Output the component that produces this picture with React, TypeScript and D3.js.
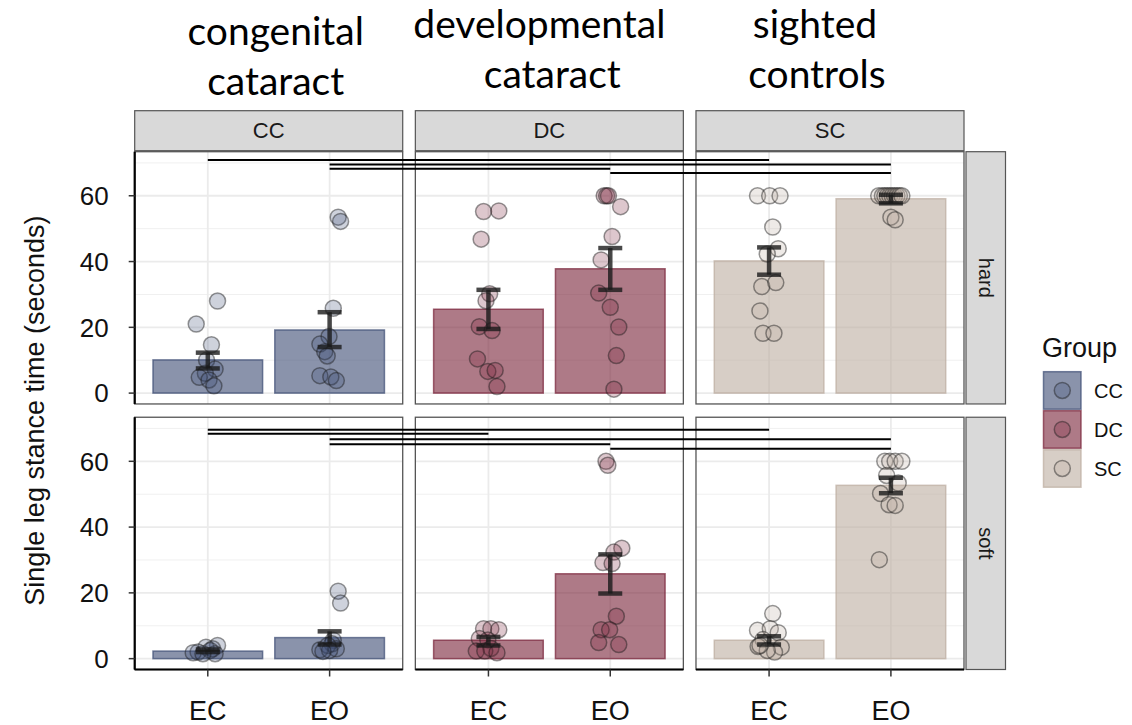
import * as d3 from "d3";

const groups = ["CC", "DC", "SC"];
const conditions = ["EC", "EO"];
const surfaces = ["hard", "soft"];
const groupTitles = [
  ["congenital", "cataract"],
  ["developmental", "cataract"],
  ["sighted", "controls"],
];
const yTicks = [0, 20, 40, 60];
const yMinor = [10, 30, 50, 70];

// bar heights and error bar ends, order: CC-EC, CC-EO, DC-EC, DC-EO, SC-EC, SC-EO
const meanHard = [10.1, 19.2, 25.5, 37.8, 40.2, 59.1];
const lowHard = [7.5, 14.0, 19.5, 31.4, 36.0, 57.7];
const highHard = [12.3, 24.6, 31.4, 44.1, 44.3, 60.3];
const meanSoft = [2.3, 6.4, 5.6, 25.8, 5.6, 52.7];
const lowSoft = [2.0, 4.3, 4.0, 19.8, 4.3, 50.3];
const highSoft = [2.8, 8.3, 6.6, 31.7, 6.8, 55.0];

// participants: [seconds, jitter in band steps]
const hardCC_EC = [[28.0, 0.08], [21.0, -0.095], [14.7, 0.03], [10.0, -0.01], [7.3, 0.06], [6.0, -0.02], [4.8, -0.07], [4.0, 0.01], [2.2, 0.05]];
const hardCC_EO = [[53.5, 0.07], [52.2, 0.09], [25.8, 0.03], [17.2, -0.005], [14.9, -0.08], [12.6, -0.04], [11.3, -0.02], [5.3, -0.08], [4.9, 0.01], [3.8, 0.055]];
const hardDC_EC = [[55.2, -0.04], [55.4, 0.085], [46.8, -0.06], [30.2, 0.01], [28.1, -0.02], [20.2, -0.075], [19.0, 0.03], [10.4, -0.09], [6.6, -0.005], [6.9, 0.055], [2.0, 0.07]];
const hardDC_EO = [[60, -0.05], [60, -0.03], [60, -0.015], [56.7, 0.085], [47.6, 0.015], [40.5, -0.075], [30.4, -0.095], [26.1, 0], [20.1, 0.07], [11.4, 0.05], [1.2, 0.03]];
const hardSC_EC = [[60, -0.095], [60, 0.005], [60, 0.09], [50.5, 0.03], [43.9, 0.075], [42.3, -0.015], [32.4, -0.06], [33.6, 0.055], [25.0, -0.075], [18.2, -0.05], [18.2, 0.04]];
const hardSC_EO = [[60, -0.1], [60, -0.07], [60, -0.05], [60, -0.03], [60, -0.01], [60, 0.01], [60, 0.03], [60, 0.05], [60, 0.07], [60, 0.09], [53.5, 0], [52.7, 0.035]];
const softCC_EC = [[4.0, 0.08], [3.5, -0.015], [3.0, 0.04], [2.5, 0.02], [2.0, -0.08], [1.8, -0.12], [1.5, 0.06], [1.5, -0.04]];
const softCC_EO = [[20.5, 0.07], [16.9, 0.09], [5.6, 0.03], [4.5, 0.02], [4.0, -0.015], [3.0, 0.055], [2.7, -0.08], [2.5, 0], [2.2, -0.055]];
const softDC_EC = [[9.1, -0.04], [9.1, 0.02], [8.8, 0.085], [6.1, -0.075], [5.7, -0.005], [3.1, 0.02], [2.3, -0.1], [2.3, -0.03], [1.8, 0.07]];
const softDC_EO = [[60, -0.035], [58.8, -0.02], [33.6, 0.095], [32.4, 0.03], [29.2, -0.06], [28.9, 0.015], [12.9, 0.05], [8.8, -0.075], [8.8, -0.005], [4.9, -0.095], [4.3, 0.07]];
const softSC_EC = [[13.7, 0.03], [8.6, -0.095], [9.1, 0.01], [7.9, 0.075], [5.8, -0.05], [3.7, -0.09], [3.5, 0.1], [2.0, 0.045], [2.5, -0.015], [4.0, -0.075]];
const softSC_EO = [[60, -0.05], [60, -0.01], [60, 0.035], [60, 0.09], [55.7, -0.035], [53.4, 0.06], [50.2, -0.085], [46.8, -0.015], [46.6, 0.035], [30.1, -0.095]];

const pointsHard = [hardCC_EC, hardCC_EO, hardDC_EC, hardDC_EO, hardSC_EC, hardSC_EO];
const pointsSoft = [softCC_EC, softCC_EO, softDC_EC, softDC_EO, softSC_EC, softSC_EO];

// comparison brackets: from group/cond to group/cond at height (seconds)
const linksHard: [string, string, string, string, number][] = [
  ["CC", "EC", "SC", "EC", 70.9],
  ["CC", "EO", "SC", "EO", 69.5],
  ["CC", "EO", "DC", "EO", 68.2],
  ["DC", "EO", "SC", "EO", 66.9],
];
const linksSoft: [string, string, string, string, number][] = [
  ["CC", "EC", "SC", "EC", 69.6],
  ["CC", "EC", "DC", "EC", 68.4],
  ["CC", "EO", "SC", "EO", 66.7],
  ["CC", "EO", "DC", "EO", 65.2],
  ["DC", "EO", "SC", "EO", 63.8],
];

const colors = ["#3c4b73", "#782137", "#bcada0"];

const font = "'Liberation Sans', Arial, sans-serif";

// title text boxes sit a little off the panel centres (px shift per line)
const titleShift = [
  [7, 7],
  [-10, 3],
  [-15, -13],
];

export default function App() {
  const width = 1132;
  const height = 725;

  const fx = d3.scaleBand().domain(groups).range([134.7, 964]).paddingInner(0.045);
  const fy = d3.scaleBand().domain(surfaces).range([151.7, 669.5]).paddingInner(0.05);
  const pw = fx.bandwidth();
  const ph = fy.bandwidth();
  const x = d3.scaleBand().domain(conditions).range([0, pw]).paddingInner(0.1).paddingOuter(0.15);
  const y = d3.scaleLinear().domain([-3.3, 73.4]).range([ph, 0]);
  const step = x.step();
  const cx = (c: string) => (x(c) || 0) + x.bandwidth() / 2;

  const stripRight = 1005.5;
  const stripLeft = 966;

  return (
    <svg
      width={width}
      height={height}
      style={{ position: "absolute", left: 0, top: 0, background: "#fff" }}
    >
      {/* group titles */}
      {groups.map((g, gi) => {
        const mid = (fx(g) || 0) + pw / 2;
        return (
          <text
            key={"t" + g}
            y={gi === 0 ? 45 : 38}
            textAnchor="middle"
            fontFamily="Lato, 'Open Sans', sans-serif"
            fontSize={39}
            fill="#000"
          >
            <tspan x={mid + titleShift[gi][0]}>{groupTitles[gi][0]}</tspan>
            <tspan x={mid + titleShift[gi][1]} dy={50}>{groupTitles[gi][1]}</tspan>
          </text>
        );
      })}

      {/* top strips */}
      {groups.map((g) => (
        <g key={"s" + g}>
          <rect x={fx(g)} y={110.7} width={pw} height={40} fill="#d9d9d9" stroke="#555" strokeWidth={1.2} />
          <text x={(fx(g) || 0) + pw / 2} y={130.7} dy="0.35em" textAnchor="middle" fontFamily={font} fontSize={22} fill="#1a1a1a">
            {g}
          </text>
        </g>
      ))}

      {/* right strips */}
      {surfaces.map((s) => (
        <g key={"r" + s}>
          <rect x={stripLeft} y={fy(s)} width={stripRight - stripLeft} height={ph} fill="#d9d9d9" stroke="#555" strokeWidth={1.2} />
          <text
            transform={`translate(${(stripLeft + stripRight) / 2},${(fy(s) || 0) + ph / 2}) rotate(90)`}
            dy="0.35em"
            textAnchor="middle"
            fontFamily={font}
            fontSize={20}
            fill="#1a1a1a"
          >
            {s}
          </text>
        </g>
      ))}

      {surfaces.map((s, si) => {
        const means = si === 0 ? meanHard : meanSoft;
        const lows = si === 0 ? lowHard : lowSoft;
        const highs = si === 0 ? highHard : highSoft;
        const pts = si === 0 ? pointsHard : pointsSoft;
        return groups.map((g, gi) => (
          <g key={s + g} transform={`translate(${fx(g)},${fy(s)})`}>
            <rect width={pw} height={ph} fill="#fff" />
            {yMinor.map((t) => (
              <line key={"mi" + t} x1={0} x2={pw} y1={y(t)} y2={y(t)} stroke="#f0f0f0" strokeWidth={1} />
            ))}
            {yTicks.map((t) => (
              <line key={"ma" + t} x1={0} x2={pw} y1={y(t)} y2={y(t)} stroke="#ebebeb" strokeWidth={1.8} />
            ))}
            {conditions.map((c) => (
              <line key={"v" + c} x1={cx(c)} x2={cx(c)} y1={0} y2={ph} stroke="#ebebeb" strokeWidth={1.8} />
            ))}
            {conditions.map((c, ci) => {
              const k = gi * 2 + ci;
              return (
                <rect
                  key={"b" + c}
                  x={x(c)}
                  y={y(means[k])}
                  width={x.bandwidth()}
                  height={y(0) - y(means[k])}
                  fill={colors[gi]}
                  fillOpacity={0.6}
                  stroke={colors[gi]}
                  strokeOpacity={0.7}
                  strokeWidth={1.5}
                />
              );
            })}
            {conditions.map((c, ci) => {
              const k = gi * 2 + ci;
              return (
                <g key={"p" + c}>
                  {pts[k].map((p, pi) => (
                    <circle
                      key={pi}
                      cx={cx(c) + p[1] * step}
                      cy={y(p[0])}
                      r={8}
                      fill={colors[gi]}
                      fillOpacity={0.25}
                      stroke="#1a1a1a"
                      strokeOpacity={0.45}
                      strokeWidth={1.5}
                    />
                  ))}
                </g>
              );
            })}
            {conditions.map((c, ci) => {
              const k = gi * 2 + ci;
              const xc = cx(c);
              return (
                <g key={"e" + c} stroke="#1a1a1a" strokeOpacity={0.8} strokeWidth={4.5}>
                  <line x1={xc} x2={xc} y1={y(lows[k])} y2={y(highs[k])} />
                  <line x1={xc - 12} x2={xc + 12} y1={y(lows[k])} y2={y(lows[k])} />
                  <line x1={xc - 12} x2={xc + 12} y1={y(highs[k])} y2={y(highs[k])} />
                </g>
              );
            })}
            <rect width={pw} height={ph} fill="none" stroke="#555" strokeWidth={1.3} />
            {gi === 0 && (
              <g>
                <line x1={0} x2={0} y1={0} y2={ph} stroke="#000" strokeWidth={2.2} />
                {yTicks.map((t) => (
                  <g key={"yt" + t}>
                    <line x1={-6} x2={0} y1={y(t)} y2={y(t)} stroke="#333" strokeWidth={1.5} />
                    <text x={-26} y={y(t)} dy="0.36em" textAnchor="end" fontFamily={font} fontSize={26} fill="#111">
                      {t}
                    </text>
                  </g>
                ))}
              </g>
            )}
            {si === 1 && (
              <g>
                <line x1={0} x2={pw} y1={ph} y2={ph} stroke="#000" strokeWidth={2.2} />
                {conditions.map((c) => (
                  <g key={"xt" + c}>
                    <line x1={cx(c)} x2={cx(c)} y1={ph} y2={ph + 7} stroke="#333" strokeWidth={1.5} />
                    <text x={cx(c)} y={ph + 51} textAnchor="middle" fontFamily={font} fontSize={27} fill="#111">
                      {c}
                    </text>
                  </g>
                ))}
              </g>
            )}
          </g>
        ));
      })}

      {/* comparison lines across panels */}
      {surfaces.map((s, si) => {
        const links = si === 0 ? linksHard : linksSoft;
        return links.map((l, li) => (
          <line
            key={s + "l" + li}
            x1={(fx(l[0]) || 0) + cx(l[1])}
            x2={(fx(l[2]) || 0) + cx(l[3])}
            y1={(fy(s) || 0) + y(l[4])}
            y2={(fy(s) || 0) + y(l[4])}
            stroke="#000"
            strokeWidth={2}
          />
        ));
      })}

      {/* y axis title */}
      <text
        transform={`translate(44,${(151.7 + 669.5) / 2}) rotate(-90)`}
        textAnchor="middle"
        fontFamily={font}
        fontSize={27}
        fill="#111"
      >
        Single leg stance time (seconds)
      </text>

      {/* legend */}
      <text x={1042} y={357} fontFamily={font} fontSize={27} fill="#111">
        Group
      </text>
      {groups.map((g, gi) => {
        const ky = 371.7 + gi * 39;
        return (
          <g key={"lg" + g}>
            <rect x={1043.5} y={ky} width={37.5} height={37.5} fill={colors[gi]} fillOpacity={0.6} stroke={colors[gi]} strokeOpacity={0.7} strokeWidth={1.5} />
            <circle cx={1062.3} cy={ky + 18.75} r={8} fill={colors[gi]} fillOpacity={0.25} stroke="#1a1a1a" strokeOpacity={0.45} strokeWidth={1.5} />
            <text x={1094} y={ky + 18.75} dy="0.36em" fontFamily={font} fontSize={20} fill="#111">
              {g}
            </text>
          </g>
        );
      })}
    </svg>
  );
}
